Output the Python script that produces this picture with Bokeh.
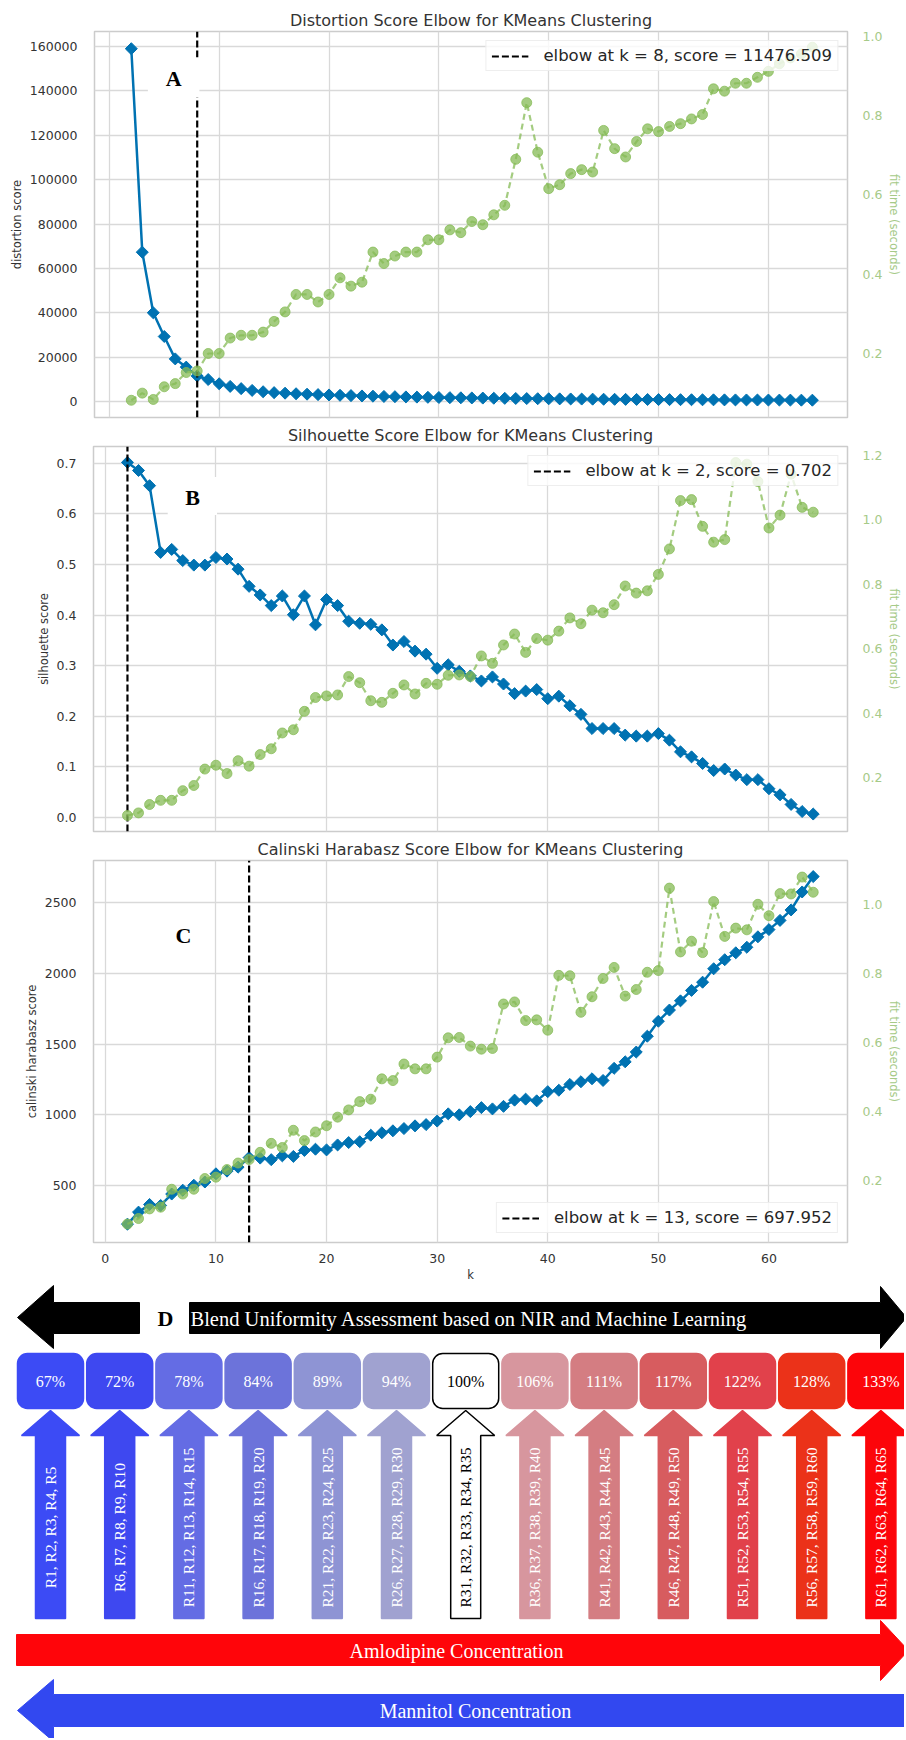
import math
from bokeh.plotting import figure
from bokeh.layouts import column
from bokeh.models import (Range1d, LinearAxis, SingleIntervalTicker, NumeralTickFormatter,
                          Legend, LegendItem, Label, BoxAnnotation, ColumnDataSource)
from bokeh.core.properties import value
from bokeh.embed import file_html
from bokeh.resources import INLINE

# ---------------------------------------------------------------- data
k_values = list(range(2, 65))

distortion_scores = [159000, 67300, 40000, 29300, 19200, 15500, 11476.509, 9900, 8000, 6800,
                     5800, 5000, 4400, 4000, 3750, 3500, 3300, 3100, 2950, 2800,
                     2650, 2500, 2400, 2280, 2170, 2070, 1980, 1890, 1810, 1740,
                     1670, 1600, 1540, 1480, 1420, 1370, 1320, 1270, 1220, 1180,
                     1140, 1100, 1060, 1020, 990, 960, 930, 900, 870, 845,
                     820, 795, 770, 750, 730, 710, 690, 670, 655, 640,
                     625, 610, 595]
distortion_fit_time = [0.082, 0.100, 0.084, 0.116, 0.124, 0.152, 0.156, 0.200, 0.200, 0.239,
                       0.246, 0.246, 0.254, 0.281, 0.305, 0.349, 0.349, 0.330, 0.349, 0.391,
                       0.370, 0.380, 0.456, 0.427, 0.446, 0.456, 0.456, 0.487, 0.487, 0.512,
                       0.505, 0.533, 0.525, 0.550, 0.574, 0.690, 0.833, 0.708, 0.616, 0.626,
                       0.654, 0.664, 0.658, 0.763, 0.717, 0.696, 0.735, 0.767, 0.760, 0.773,
                       0.780, 0.792, 0.803, 0.868, 0.862, 0.882, 0.882, 0.897, 0.912, 0.931,
                       0.946, 0.956, 0.973]

silhouette_scores = [0.702, 0.686, 0.656, 0.524, 0.530, 0.508, 0.499, 0.499, 0.514, 0.511,
                     0.491, 0.457, 0.440, 0.419, 0.438, 0.401, 0.438, 0.381, 0.431, 0.419,
                     0.388, 0.384, 0.382, 0.371, 0.341, 0.348, 0.329, 0.323, 0.295, 0.302,
                     0.289, 0.280, 0.270, 0.278, 0.264, 0.245, 0.250, 0.253, 0.235, 0.240,
                     0.221, 0.204, 0.176, 0.176, 0.176, 0.163, 0.161, 0.161, 0.166, 0.153,
                     0.130, 0.120, 0.107, 0.093, 0.096, 0.084, 0.075, 0.075, 0.057, 0.045,
                     0.026, 0.012, 0.007]
silhouette_fit_time = [0.083, 0.091, 0.117, 0.130, 0.130, 0.160, 0.176, 0.227, 0.239, 0.213,
                       0.253, 0.236, 0.272, 0.290, 0.339, 0.349, 0.406, 0.449, 0.454, 0.457,
                       0.514, 0.495, 0.439, 0.434, 0.462, 0.488, 0.460, 0.493, 0.490, 0.518,
                       0.519, 0.514, 0.578, 0.555, 0.612, 0.646, 0.589, 0.632, 0.627, 0.655,
                       0.696, 0.678, 0.720, 0.712, 0.737, 0.795, 0.773, 0.780, 0.831, 0.910,
                       1.060, 1.063, 0.980, 0.931, 0.939, 1.178, 1.173, 1.119, 0.975, 1.015,
                       1.142, 1.039, 1.024]

calinski_scores = [227, 312, 366, 359, 440, 467, 502, 525, 583, 602,
                   630, 697.952, 694, 683, 710, 706, 748, 757, 752, 787,
                   804, 810, 856, 873, 887, 903, 922, 931, 956, 1007,
                   1000, 1023, 1051, 1042, 1060, 1104, 1111, 1099, 1164, 1174,
                   1215, 1234, 1255, 1243, 1329, 1375, 1444, 1556, 1662, 1741,
                   1806, 1880, 1938, 2033, 2097, 2146, 2185, 2259, 2310, 2375,
                   2449, 2576, 2685]
calinski_fit_time = [0.074, 0.090, 0.118, 0.123, 0.175, 0.161, 0.175, 0.206, 0.210, 0.232,
                     0.251, 0.261, 0.282, 0.308, 0.296, 0.346, 0.316, 0.341, 0.359, 0.384,
                     0.405, 0.429, 0.436, 0.495, 0.490, 0.538, 0.524, 0.524, 0.558, 0.614,
                     0.615, 0.590, 0.581, 0.583, 0.712, 0.718, 0.664, 0.666, 0.636, 0.795,
                     0.794, 0.688, 0.733, 0.786, 0.818, 0.735, 0.754, 0.804, 0.809, 1.048,
                     0.863, 0.894, 0.861, 1.009, 0.908, 0.932, 0.927, 1.001, 0.968, 1.032,
                     1.031, 1.080, 1.036]

elbow_k = {"distortion": 8, "silhouette": 2, "calinski": 13}
elbow_score = {"distortion": 11476.509, "silhouette": 0.702, "calinski": 697.952}

percent_labels = ["67%", "72%", "78%", "84%", "89%", "94%", "100%",
                  "106%", "111%", "117%", "122%", "128%", "133%"]
run_groups = ["R1, R2, R3, R4, R5", "R6, R7, R8, R9, R10", "R11, R12, R13, R14, R15",
              "R16, R17, R18, R19, R20", "R21, R22, R23, R24, R25", "R26, R27, R28, R29, R30",
              "R31, R32, R33, R34, R35", "R36, R37, R38, R39, R40", "R41, R42, R43, R44, R45",
              "R46, R47, R48, R49, R50", "R51, R52, R53, R54, R55", "R56, R57, R58, R59, R60",
              "R61, R62, R63, R64, R65"]
group_colors = ["#3c4bf5", "#3e48f0", "#646ce4", "#6c73da", "#8e94d4", "#a0a2d0", "#ffffff",
                "#d7969e", "#d47d82", "#d75c5f", "#e1414b", "#eb3219", "#fc050a"]

# ---------------------------------------------------------------- style
SANS = "DejaVu Sans"
SERIF = "Liberation Serif"
BLUE = "#0072b2"
GREEN = "#86bb55"
GREEN_TXT = "#a6ca88"
TXT = "#333333"
FIG_W = 904
FRAME_RIGHT = 855


def elbow_figure(title, ylabel, scores, times, ek, es, x_rng, y_rng, t_rng, y_step,
                 height, b_top, b_bottom, b_left, legend_loc, show_x, y_fmt, tag):
    p = figure(width=FIG_W, height=height, x_range=Range1d(*x_rng), y_range=Range1d(*y_rng),
               title=title, output_backend="svg", toolbar_location=None,
               min_border_left=b_left, min_border_right=FIG_W - FRAME_RIGHT,
               min_border_top=b_top, min_border_bottom=b_bottom)
    p.title.text_font = SANS
    p.title.text_font_size = "16px"
    p.title.text_font_style = "normal"
    p.title.text_color = TXT
    p.title.align = "center"
    p.title.standoff = 4

    p.outline_line_color = "#cccccc"
    p.outline_line_width = 1.5
    for g in (p.xgrid, p.ygrid):
        g.grid_line_color = "#d9d9d9"
        g.grid_line_width = 1.3

    xa = p.below[0]
    xa.ticker = SingleIntervalTicker(interval=10, num_minor_ticks=0)
    ya = p.left[0]
    ya.ticker = SingleIntervalTicker(interval=y_step, num_minor_ticks=0)
    ya.formatter = NumeralTickFormatter(format=y_fmt)
    ya.axis_label = ylabel

    ra = LinearAxis(y_range_name="fit", axis_label="fit time (seconds)",
                    ticker=SingleIntervalTicker(interval=0.2, num_minor_ticks=0),
                    formatter=NumeralTickFormatter(format="0.0"))
    p.extra_y_ranges = {"fit": Range1d(*t_rng)}
    p.add_layout(ra, "right")

    for ax in (xa, ya, ra):
        ax.axis_line_color = None
        ax.major_tick_line_color = None
        ax.minor_tick_line_color = None
        ax.major_label_text_font = SANS
        ax.major_label_text_font_size = "12.5px"
        ax.major_label_text_color = TXT
        ax.axis_label_text_font = SANS
        ax.axis_label_text_font_size = "11.5px"
        ax.axis_label_text_font_style = "normal"
        ax.axis_label_text_color = TXT
    ya.major_label_standoff = 11
    ya.axis_label_standoff = 3
    ra.major_label_standoff = 9
    ra.axis_label_standoff = 2
    ra.major_label_text_color = GREEN_TXT
    ra.axis_label_text_color = GREEN_TXT
    ra.axis_label_text_font_size = "11.5px"
    if show_x:
        xa.axis_label = "k"
        xa.major_label_standoff = 5
        xa.axis_label_standoff = 2
    else:
        xa.visible = False

    src = ColumnDataSource(dict(k=k_values, score=scores, t=times))
    p.line("k", "score", source=src, line_color=BLUE, line_width=2.5)
    p.scatter("k", "score", source=src, marker="square", angle=math.pi / 4, size=8.5,
              fill_color=BLUE, line_color=BLUE)
    el = p.line(x=[ek, ek], y=[y_rng[0], y_rng[1]], line_color="black", line_width=2.2,
                line_dash="7 3")

    gl = p.line("k", "t", source=src, y_range_name="fit", line_color=GREEN, line_width=2.2,
                line_dash="6 4", line_alpha=0.75)
    gs = p.scatter("k", "t", source=src, y_range_name="fit", marker="circle", size=10,
                   fill_color=GREEN, line_color=GREEN, fill_alpha=0.75, line_alpha=0.75)
    gl.level = "overlay"
    gs.level = "overlay"

    lab = "elbow at k = %d, score = %.3f" % (ek, es)
    leg = Legend(items=[LegendItem(label=lab, renderers=[el])], location=legend_loc,
                 label_text_font=SANS, label_text_font_size="16.5px", label_text_color="#262626",
                 glyph_width=37, glyph_height=18, label_height=18, label_standoff=15,
                 padding=5, margin=9, border_line_color="#dddddd", border_line_width=1,
                 background_fill_color="white", background_fill_alpha=0.8)
    p.add_layout(leg)

    (lx, ly, box) = tag
    if box is not None:
        p.add_layout(BoxAnnotation(left=box[0], right=box[1], bottom=box[2], top=box[3],
                                   fill_color="white", fill_alpha=1.0, line_color=None))
    p.add_layout(Label(x=lx[0], y=lx[1], text=ly, text_font=SERIF, text_font_style="bold",
                       text_font_size="22px", text_color="black", text_align="center",
                       text_baseline="middle"))
    return p


pa = elbow_figure("Distortion Score Elbow for KMeans Clustering", "distortion score",
                  distortion_scores, distortion_fit_time, elbow_k["distortion"],
                  elbow_score["distortion"], (-1.35, 67.2), (-7211, 166761), (0.0385, 1.0126),
                  20000, 421, 31, 4, 94, "top_right", False, "0",
                  ((5.86, 145600), "A", (3.51, 8.2, 137000, 155000)))
pb = elbow_figure("Silhouette Score Elbow for KMeans Clustering", "silhouette score",
                  silhouette_scores, silhouette_fit_time, elbow_k["silhouette"],
                  elbow_score["silhouette"], (-1.07, 67.1), (-0.0275, 0.7334), (0.0333, 1.2278),
                  0.1, 414, 23, 4, 93, "top_right", False, "0.0",
                  ((7.88, 0.633), "B", (5.64, 10.1, 0.598, 0.673)))
pc = elbow_figure("Calinski Harabasz Score Elbow for KMeans Clustering", "calinski harabasz score",
                  calinski_scores, calinski_fit_time, elbow_k["calinski"],
                  elbow_score["calinski"], (-1.07, 67.1), (97.2, 2798.6), (0.0206, 1.128),
                  500, 449, 22, 38, 93, "bottom_right", True, "0",
                  ((7.07, 2271), "C", None))

# ---------------------------------------------------------------- panel D (diagram)
D_TOP, D_H = 1284, 454
pdn = figure(width=FIG_W, height=D_H, x_range=Range1d(0, FIG_W),
             y_range=Range1d(D_TOP + D_H, D_TOP), output_backend="svg", toolbar_location=None,
             min_border=0, x_axis_location=None, y_axis_location=None)
pdn.outline_line_color = None
pdn.grid.visible = False
for fig in (pa, pb, pc, pdn):
    if hasattr(fig, "frame_align"):
        fig.frame_align = False

# layout constants (reference pixel space)
COL_X0, COL_PITCH, BOX_HW = 50.0, 69.2, 33.0
BOX_TOP, BOX_BOT = 1353, 1408
TIP_Y, HEAD_Y, SHAFT_BOT = 1410, 1435, 1618
HEAD_HW, SHAFT_HW = 29, 15
centers = [COL_X0 + COL_PITCH * i for i in range(len(percent_labels))]
text_cols = ["black" if c == "#ffffff" else "white" for c in group_colors]
line_cols = ["black" if c == "#ffffff" else c for c in group_colors]

# top black double arrow with a gap for the "D"
pdn.patches(xs=[[17, 53, 53, 139, 139, 53, 53], [189, 880, 880, 906, 880, 880, 189]],
            ys=[[1317, 1285, 1302, 1302, 1333, 1333, 1348], [1302, 1302, 1286, 1317, 1348, 1333, 1333]],
            fill_color="black", line_color="black")
pdn.text(x=[190], y=[1318], text=["Blend Uniformity Assessment based on NIR and Machine Learning"],
         text_font=value(SERIF), text_font_size="20.5px", text_color="white",
         text_align="left", text_baseline="middle")
pdn.text(x=[165], y=[1318], text=["D"], text_font=value(SERIF), text_font_style="bold",
         text_font_size="22px", text_color="black", text_align="center", text_baseline="middle")

# percentage boxes
pdn.quad(left=[c - BOX_HW for c in centers], right=[c + BOX_HW for c in centers],
         top=[BOX_TOP] * len(centers), bottom=[BOX_BOT] * len(centers),
         fill_color=group_colors, line_color=line_cols, line_width=1.5, border_radius=10)
pdn.text(x=centers, y=[(BOX_TOP + BOX_BOT) / 2] * len(centers), text=percent_labels,
         text_font=value(SERIF), text_font_size="16px", text_color=text_cols,
         text_align="center", text_baseline="middle")

# up arrows
axs = [[c, c + HEAD_HW, c + SHAFT_HW, c + SHAFT_HW, c - SHAFT_HW, c - SHAFT_HW, c - HEAD_HW]
       for c in centers]
ays = [[TIP_Y, HEAD_Y, HEAD_Y, SHAFT_BOT, SHAFT_BOT, HEAD_Y, HEAD_Y] for _ in centers]
pdn.patches(xs=axs, ys=ays, fill_color=group_colors, line_color=line_cols, line_width=1.5)
pdn.text(x=centers, y=[(HEAD_Y + SHAFT_BOT) / 2 + 0.5] * len(centers), text=run_groups,
         angle=math.pi / 2, text_font=value(SERIF), text_font_size="15.5px",
         text_color=text_cols, text_align="center", text_baseline="middle")

# concentration arrows
pdn.patches(xs=[[16, 880, 880, 908, 880, 880, 16]],
            ys=[[1634, 1634, 1620, 1650, 1680, 1665, 1665]],
            fill_color="#ff050a", line_color="#ff050a")
pdn.text(x=[456], y=[1650], text=["Amlodipine Concentration"], text_font=value(SERIF),
         text_font_size="20px", text_color="white", text_align="center", text_baseline="middle")
pdn.patches(xs=[[17, 53, 53, 906, 906, 53, 53]],
            ys=[[1710, 1679, 1694, 1694, 1726, 1726, 1741]],
            fill_color="#3248f0", line_color="#3248f0")
pdn.text(x=[475], y=[1710], text=["Mannitol Concentration"], text_font=value(SERIF),
         text_font_size="20px", text_color="white", text_align="center", text_baseline="middle")

layout = column(pa, pb, pc, pdn)
open("out.html", "w").write(file_html(layout, INLINE))
